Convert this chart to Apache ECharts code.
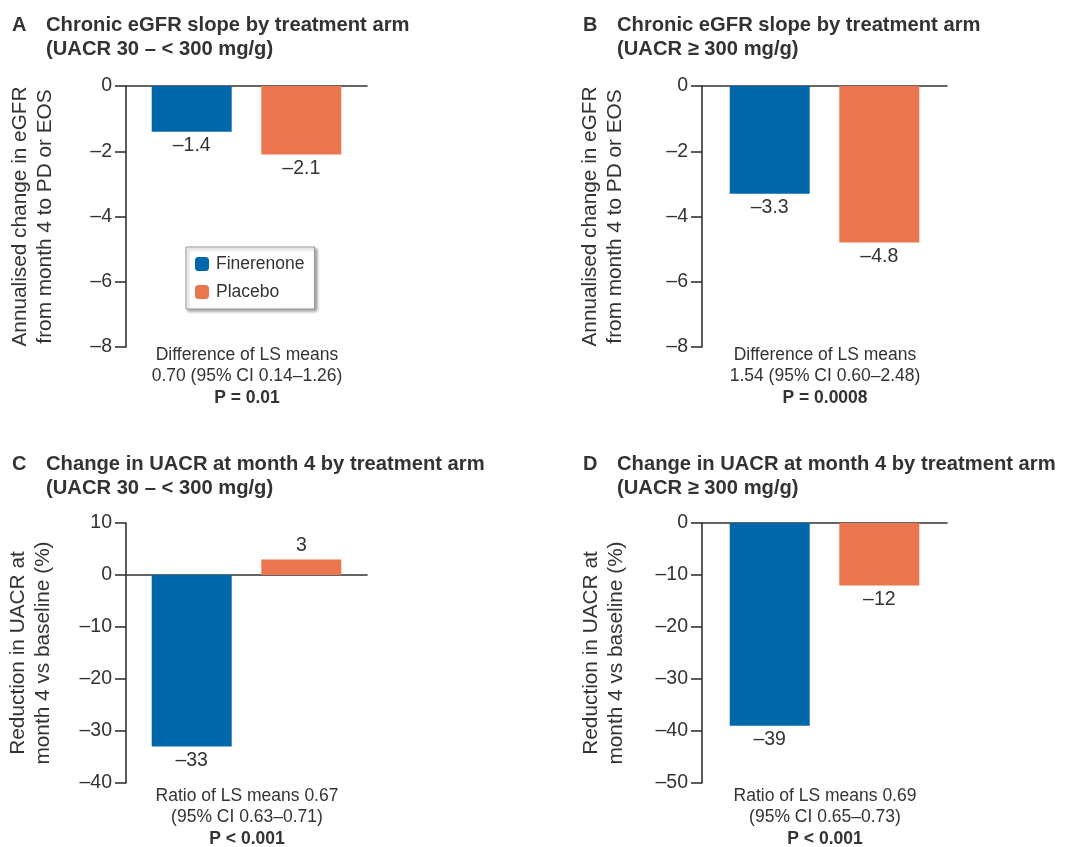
<!DOCTYPE html>
<html>
<head>
<meta charset="utf-8">
<script src="https://cdn.jsdelivr.net/npm/echarts@6/dist/echarts.min.js"></script>
<style>html,body{margin:0;padding:0;background:#fff}#c{width:1074px;height:847px}</style>
</head>
<body>
<div id="c"></div>
<script>
// ---- data ----
const seriesNames = ['Finerenone', 'Placebo'];
const panelLetters = ['A', 'B', 'C', 'D'];
const panelTitles = [
  'Chronic eGFR slope by treatment arm\n(UACR 30 – < 300 mg/g)',
  'Chronic eGFR slope by treatment arm\n(UACR ≥ 300 mg/g)',
  'Change in UACR at month 4 by treatment arm\n(UACR 30 – < 300 mg/g)',
  'Change in UACR at month 4 by treatment arm\n(UACR ≥ 300 mg/g)'
];
const finerenoneValues = [-1.4, -3.3, -33, -39];
const placeboValues = [-2.1, -4.8, 3, -12];
const yMin = [-8, -8, -40, -50];
const yMax = [0, 0, 10, 0];
const yInterval = [2, 2, 10, 10];
const yNames = [
  'Annualised change in eGFR\nfrom month 4 to PD or EOS',
  'Annualised change in eGFR\nfrom month 4 to PD or EOS',
  'Reduction in UACR at\nmonth 4 vs baseline (%)',
  'Reduction in UACR at\nmonth 4 vs baseline (%)'
];
const noteLines = [
  ['Difference of LS means', '0.70 (95% CI 0.14–1.26)', 'P = 0.01'],
  ['Difference of LS means', '1.54 (95% CI 0.60–2.48)', 'P = 0.0008'],
  ['Ratio of LS means 0.67', '(95% CI 0.63–0.71)', 'P < 0.001'],
  ['Ratio of LS means 0.69', '(95% CI 0.65–0.73)', 'P < 0.001']
];

// ---- layout ----
const BLUE = '#0067AA', ORANGE = '#EB754F', TXT = '#333333', AX = '#333333';
const FONT = '"Liberation Sans", Arial, sans-serif';
const grids = [
  {left: 126, top: 86, width: 241, height: 261},
  {left: 702, top: 86, width: 245, height: 261},
  {left: 126, top: 523, width: 241, height: 260},
  {left: 702, top: 523, width: 245, height: 260}
];
const nameGaps = [68, 74, 70, 73];
const titlePos = [
  {lx: 12, tx: 46, y: 13}, {lx: 583, tx: 617, y: 13},
  {lx: 12, tx: 46, y: 452}, {lx: 583, tx: 617, y: 452}
];
const notePos = [{x: 247, y: 355}, {x: 825, y: 355}, {x: 247, y: 796}, {x: 825, y: 796}];

const dash = v => String(v).replace('-', '–');

const option = {
  animation: false,
  backgroundColor: '#fff',
  textStyle: {fontFamily: FONT},
  grid: grids.map(g => Object.assign({containLabel: false}, g)),
  legend: {
    data: seriesNames, orient: 'vertical', left: 186, top: 247,
    itemWidth: 14, itemHeight: 14, itemGap: 10,
    padding: [8, 10, 8, 9],
    borderColor: '#999', borderWidth: 1, backgroundColor: '#fff',
    shadowColor: 'rgba(0,0,0,0.35)', shadowBlur: 3, shadowOffsetX: 2, shadowOffsetY: 2,
    textStyle: {fontSize: 17.5, color: TXT, fontFamily: FONT, padding: [0, 0, 0, 2]},
    selectedMode: false
  },
  xAxis: grids.map((g, i) => ({
    type: 'category', gridIndex: i, data: [''],
    axisLine: {onZero: true, lineStyle: {color: AX, width: 1.6}},
    axisTick: {show: false}, axisLabel: {show: false}, splitLine: {show: false}
  })),
  yAxis: grids.map((g, i) => ({
    type: 'value', gridIndex: i, min: yMin[i], max: yMax[i], interval: yInterval[i],
    name: yNames[i], nameLocation: 'middle', nameRotate: 90, nameGap: nameGaps[i],
    nameTextStyle: {fontSize: 20.8, color: TXT, lineHeight: 25, fontFamily: FONT},
    axisLine: {show: true, lineStyle: {color: AX, width: 1.6}},
    axisTick: {show: true, inside: false, length: 11, lineStyle: {color: AX, width: 1.6}},
    axisLabel: {fontSize: 19.5, color: TXT, margin: 14, formatter: dash, fontFamily: FONT},
    splitLine: {show: false}
  })),
  series: [],
  title: [],
  graphic: []
};

for (let i = 0; i < 4; i++) {
  [finerenoneValues, placeboValues].forEach((vals, s) => {
    const v = vals[i];
    option.series.push({
      type: 'bar', name: seriesNames[s], xAxisIndex: i, yAxisIndex: i,
      barWidth: 80, barGap: '37%',
      itemStyle: {color: s === 0 ? BLUE : ORANGE},
      data: [{value: v, label: {position: v < 0 ? 'bottom' : 'top'}}],
      label: {show: true, distance: 4, fontSize: 19.5, color: TXT, fontFamily: FONT,
              formatter: p => dash(p.value)}
    });
  });
  option.title.push({
    text: panelLetters[i], left: titlePos[i].lx, top: titlePos[i].y, padding: 0,
    textStyle: {fontSize: 20, fontWeight: 'bold', color: TXT, lineHeight: 24, fontFamily: FONT}
  });
  option.title.push({
    text: panelTitles[i], left: titlePos[i].tx, top: titlePos[i].y, padding: 0,
    textStyle: {fontSize: 20.2, fontWeight: 'bold', color: TXT, lineHeight: 24, fontFamily: FONT}
  });
  noteLines[i].forEach((t, k) => {
    option.graphic.push({
      type: 'text', x: notePos[i].x, y: notePos[i].y + k * 21.5,
      style: {text: t, fill: TXT, font: (k === 2 ? 'bold ' : '') + '17.5px ' + FONT,
              align: 'center', verticalAlign: 'middle'}
    });
  });
}

const chart = echarts.init(document.getElementById('c'));
chart.setOption(option);
</script>
</body>
</html>
